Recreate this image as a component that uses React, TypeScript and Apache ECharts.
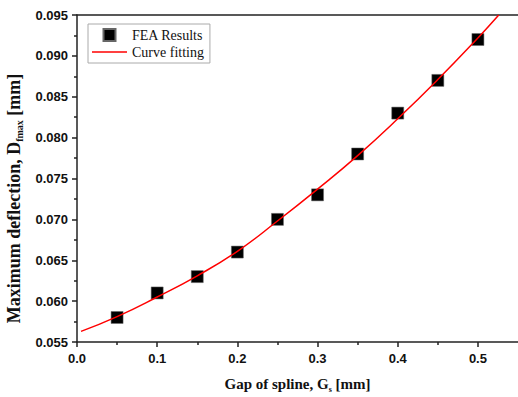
import React, { useEffect, useRef } from "react";
import * as echarts from "echarts";

const feaX = [0.05, 0.1, 0.15, 0.2, 0.25, 0.3, 0.35, 0.4, 0.45, 0.5];
const feaY = [0.058, 0.061, 0.063, 0.066, 0.07, 0.073, 0.078, 0.083, 0.087, 0.092];
const fitX = [0.005, 0.05, 0.1, 0.15, 0.2, 0.25, 0.3, 0.35, 0.4, 0.45, 0.5, 0.526];
const fitY = [0.0563, 0.0581, 0.0605, 0.0631, 0.0661, 0.0698, 0.0737, 0.0778, 0.0823, 0.0871, 0.0922, 0.095];
const xMajor = [0, 0.1, 0.2, 0.3, 0.4, 0.5];
const xMinor = [0.05, 0.15, 0.25, 0.35, 0.45];
const seriesNames = ["FEA Results", "Curve fitting"];

const AX = "#222";
const SANS = "Liberation Sans";
const SERIF = "Liberation Serif";

export default function App() {
  const ref = useRef<HTMLDivElement>(null);
  useEffect(() => {
    if (!ref.current) return;
    const chart = echarts.init(ref.current, null, { renderer: "svg" });
    const gridBox = { left: 77, top: 15, right: 0, bottom: 55, containLabel: false, outerBoundsMode: "none" };
    chart.setOption({
      animation: false,
      backgroundColor: "#fff",
      grid: [gridBox, { ...gridBox }],
      legend: {
        left: 88,
        top: 24,
        orient: "vertical",
        itemWidth: 35,
        itemHeight: 12,
        itemGap: 3,
        padding: [4, 6, 4, 4],
        borderColor: "#aaa",
        borderWidth: 1,
        textStyle: { fontFamily: SERIF, fontSize: 14, color: "#111" },
        data: [
          { name: seriesNames[0], icon: "path://M0,0H10V10H0Z", itemStyle: { color: "#000", opacity: 1 } },
          { name: seriesNames[1], icon: "path://M0,0H35V1.5H0Z", itemStyle: { color: "#ff0000" } },
        ],
      },
      xAxis: [
        {
          type: "value",
          gridIndex: 0,
          min: 0,
          max: 0.55,
          position: "bottom",
          name: "{a|Gap of spline, G}{s|s}{a| [mm]}",
          nameLocation: "middle",
          nameGap: 33,
          nameTextStyle: {
            rich: {
              a: { fontFamily: SERIF, fontWeight: "bold", fontSize: 15, color: "#111", lineHeight: 18 },
              s: { fontFamily: SERIF, fontWeight: "bold", fontSize: 8, color: "#111", verticalAlign: "bottom", lineHeight: 12 },
            },
          },
          axisLine: { show: true, onZero: false, lineStyle: { color: AX, width: 1.5 } },
          axisTick: { show: true, inside: false, length: 5, customValues: xMajor, lineStyle: { color: AX, width: 1.5 } },
          axisLabel: {
            customValues: xMajor,
            margin: 10,
            fontFamily: SANS,
            fontWeight: "bold",
            fontSize: 13,
            color: "#111",
            formatter: (v: number) => v.toFixed(1),
          },
          splitLine: { show: false },
        },
        {
          type: "value",
          gridIndex: 0,
          min: 0,
          max: 0.55,
          position: "top",
          axisLine: { show: true, onZero: false, lineStyle: { color: AX, width: 1.5 } },
          axisTick: { show: false },
          axisLabel: { show: false },
          splitLine: { show: false },
        },
        {
          type: "value",
          gridIndex: 1,
          min: 0,
          max: 0.55,
          position: "bottom",
          axisLine: { show: false },
          axisTick: { show: true, inside: false, length: 3, customValues: xMinor, lineStyle: { color: AX, width: 1.5 } },
          axisLabel: { show: false },
          splitLine: { show: false },
        },
      ],
      yAxis: [
        {
          type: "value",
          gridIndex: 0,
          min: 0.055,
          max: 0.095,
          interval: 0.005,
          name: "{a|Maximum deflection, D}{s|fmax}{a| [mm]}",
          nameLocation: "middle",
          nameGap: 52,
          nameRotate: 90,
          nameTextStyle: {
            padding: [0, 40, 0, 0],
            rich: {
              a: { fontFamily: SERIF, fontWeight: "bold", fontSize: 18, color: "#111", lineHeight: 22 },
              s: { fontFamily: SERIF, fontWeight: "bold", fontSize: 10, color: "#111", verticalAlign: "bottom", lineHeight: 14 },
            },
          },
          axisLine: { show: true, onZero: false, lineStyle: { color: AX, width: 1.5 } },
          axisTick: { show: true, inside: false, length: 5, lineStyle: { color: AX, width: 1.5 } },
          minorTick: { show: true, splitNumber: 2, length: 3, lineStyle: { color: AX, width: 1.5 } },
          axisLabel: {
            margin: 9,
            fontFamily: SANS,
            fontWeight: "bold",
            fontSize: 13,
            color: "#111",
            formatter: (v: number) => v.toFixed(3),
          },
          splitLine: { show: false },
        },
        {
          type: "value",
          gridIndex: 1,
          min: 0.055,
          max: 0.095,
          show: false,
        },
      ],
      series: [
        {
          name: seriesNames[0],
          type: "scatter",
          xAxisIndex: 0,
          yAxisIndex: 0,
          symbol: "rect",
          symbolSize: 12,
          itemStyle: { color: "#000", opacity: 1, borderColor: "#666", borderWidth: 0.5 },
          data: feaX.map((x, i) => [x, feaY[i]]),
          z: 3,
        },
        {
          name: seriesNames[1],
          type: "line",
          xAxisIndex: 0,
          yAxisIndex: 0,
          smooth: true,
          symbol: "none",
          clip: true,
          lineStyle: { color: "#ff0000", width: 1.5 },
          itemStyle: { color: "#ff0000" },
          data: fitX.map((x, i) => [x, fitY[i]]),
          z: 4,
        },
      ],
    });
    return () => chart.dispose();
  }, []);
  return <div ref={ref} style={{ width: 518, height: 397, position: "absolute", left: 0, top: 0 }} />;
}
